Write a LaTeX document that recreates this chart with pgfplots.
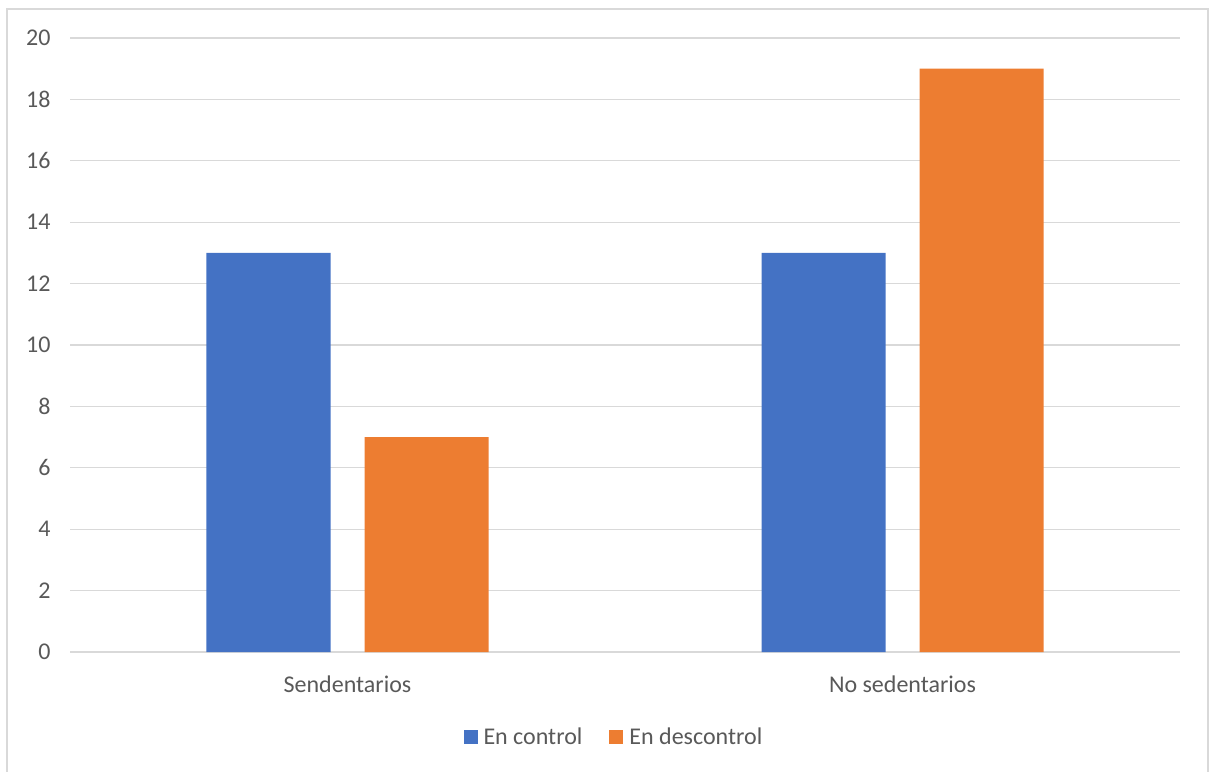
\documentclass[border=0pt]{standalone}
\usepackage{pgfplots}
\pgfplotsset{compat=1.18}
\usepackage{fontspec}
\setmainfont{Carlito}
\definecolor{barblue}{HTML}{4472C4}
\definecolor{barorange}{HTML}{ED7D31}
\definecolor{gridgray}{HTML}{D9D9D9}
\definecolor{textgray}{HTML}{595959}
\begin{document}
\begin{tikzpicture}[x=1pt,y=1pt]
\useasboundingbox (0,0) rectangle (1209,771);
% chart frame
\draw[gridgray, line width=1.5pt] (7,-10) -- (7,762) -- (1208,762) -- (1208,-10);
\begin{axis}[
  at={(70pt,119pt)}, anchor=south west,
  scale only axis, width=1110pt, height=614pt,
  xmin=-0.5, xmax=1.5, ymin=0, ymax=20,
  ytick={0,2,...,20},
  xtick={0,1}, xticklabels={Sendentarios, No sedentarios},
  major tick length=0pt,
  axis line style={draw=none},
  ymajorgrids, grid style={gridgray, line width=1.2pt},
  extra y ticks={0}, extra y tick style={grid style={gridgray, line width=1.5pt}},
  extra y tick labels={},
  tick label style={font=\fontsize{24}{28}\selectfont, text=textgray},
  /pgf/number format/assume math mode=true,
  yticklabel style={xshift=-16pt},
  xticklabel style={yshift=-20pt},
  ybar, bar width=124pt,
  legend style={at={(0.49,-0.138)}, anchor=center, draw=none,
    legend columns=2, font=\fontsize{24}{28}\selectfont, text=textgray,
    /tikz/every even column/.append style={column sep=25pt}},
  legend image code/.code={\fill[#1] (0pt,-7pt) rectangle (14pt,7pt);
    \path (0pt,0pt) (18pt,0pt);},
]
\addplot[fill=barblue, draw=none, bar shift=-79pt] coordinates {(0,13) (1,13)};
\addplot[fill=barorange, draw=none, bar shift=79pt] coordinates {(0,7) (1,19)};
\legend{En control, En descontrol}
\end{axis}
\end{tikzpicture}
\end{document}
